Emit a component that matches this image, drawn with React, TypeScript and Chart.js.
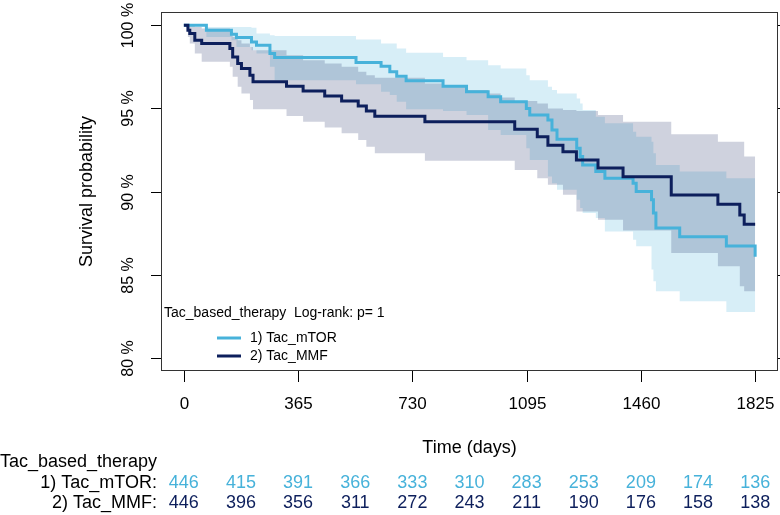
import React, { useEffect, useRef } from "react";
import { Chart, registerables } from "chart.js";

Chart.register(...registerables);

const FONT = '"Liberation Sans", Arial, Helvetica, sans-serif';
const MTOR_COLOR = "#47B2DA";
const MMF_COLOR = "#0D1F5C";

const groupLabels = ["1) Tac_mTOR", "2) Tac_MMF"];
const strataTitle = "Tac_based_therapy";
const pValueText = "Log-rank: p= 1";

// 1) Tac_mTOR
const mtorTime = [0, 72, 152, 168, 216, 232, 275, 290, 550, 630, 658, 680, 710, 828, 903, 972, 1012, 1094, 1105, 1163, 1176, 1192, 1255, 1266, 1274, 1316, 1345, 1435, 1445, 1494, 1500, 1508, 1584, 1733, 1825];
const mtorSurv = [100, 99.7, 99.46, 99.26, 99.0, 98.8, 98.3, 98.06, 97.76, 97.54, 97.2, 96.94, 96.66, 96.34, 96.0, 95.7, 95.4, 95.0, 94.6, 94.3, 93.7, 93.15, 92.6, 92.1, 91.6, 91.2, 90.8, 90.5, 90.0, 89.5, 88.7, 87.8, 87.27, 86.72, 86.08];
const mtorUpper = [100, 99.9, 99.9, 99.9, 99.85, 99.5, 99.4, 99.35, 99.15, 98.9, 98.9, 98.6, 98.35, 98.1, 97.9, 97.6, 97.4, 97.0, 96.7, 96.3, 96.1, 95.9, 95.6, 95.3, 94.9, 94.5, 94.1, 93.6, 93.3, 93.0, 92.3, 91.6, 91.2, 90.8, 90.5];
const mtorLower = [100, 99.3, 99.1, 98.7, 98.5, 98.3, 97.5, 96.7, 96.45, 96.0, 95.8, 95.4, 94.95, 94.85, 94.6, 93.7, 93.4, 92.6, 91.9, 90.9, 90.5, 90.1, 89.5, 89.0, 88.7, 88.4, 87.6, 87.1, 86.7, 85.3, 84.6, 84.0, 83.4, 82.75, 81.9];

// 2) Tac_MMF
const mmfTime = [0, 13, 19, 35, 57, 147, 156, 172, 184, 211, 221, 328, 381, 450, 504, 557, 583, 610, 770, 828, 903, 972, 1012, 1057, 1129, 1163, 1211, 1254, 1323, 1403, 1557, 1706, 1776, 1790, 1825];
const mmfSurv = [100, 99.7, 99.5, 99.1, 98.9, 98.6, 98.1, 97.7, 97.4, 97.0, 96.6, 96.33, 96.05, 95.75, 95.45, 95.15, 94.85, 94.53, 94.19, 94.19, 94.19, 94.19, 94.19, 93.74, 93.29, 92.79, 92.39, 91.89, 91.41, 90.89, 89.79, 89.23, 88.59, 88.03, 88.03];
const mmfUpper = [100, 100, 100, 99.9, 99.8, 99.6, 99.3, 99.1, 98.9, 98.7, 98.5, 98.2, 97.9, 97.7, 97.5, 97.2, 97.0, 96.85, 96.5, 96.35, 96.1, 95.9, 95.65, 95.45, 95.3, 95.0, 94.9, 94.85, 94.6, 94.2, 93.45, 93.0, 93.0, 92.1, 92.1];
const mmfLower = [100, 99.3, 98.9, 98.3, 97.8, 97.5, 96.9, 96.3, 95.9, 95.5, 94.95, 94.55, 94.2, 93.85, 93.5, 93.1, 92.7, 92.3, 91.85, 91.85, 91.85, 91.85, 91.85, 91.3, 90.8, 90.4, 89.8, 88.8, 88.3, 87.65, 86.3, 85.5, 84.3, 84.0, 84.0];

// axes
const xTicks = [0, 365, 730, 1095, 1460, 1825];
const yTicks = [80, 85, 90, 95, 100];
const yTickLabels = ["80 %", "85 %", "90 %", "95 %", "100 %"];
const xTitle = "Time (days)";
const yTitle = "Survival probability";

// number at risk
const riskTimes = [0, 182.5, 365, 547.5, 730, 912.5, 1095, 1277.5, 1460, 1642.5, 1825];
const riskMtor = [446, 415, 391, 366, 333, 310, 283, 253, 209, 174, 136];
const riskMmf = [446, 396, 356, 311, 272, 243, 211, 190, 176, 158, 138];

const toPts = (t: number[], v: number[]) => t.map((x, i) => ({ x, y: v[i] }));

const decor = {
  id: "kmDecor",
  afterDraw(chart: any) {
    const ctx = chart.ctx as CanvasRenderingContext2D;
    const { left, right, top, bottom } = chart.chartArea;
    const xs = chart.scales.x;
    const ys = chart.scales.y;
    ctx.save();
    // box
    ctx.strokeStyle = "#333";
    ctx.lineWidth = 1;
    ctx.strokeRect(Math.round(left) + 0.5, Math.round(top) + 0.5, Math.round(right - left) - 1, Math.round(bottom - top) - 1);

    ctx.strokeStyle = "#000";
    ctx.fillStyle = "#000";
    // x ticks
    ctx.font = `17px ${FONT}`;
    ctx.textAlign = "center";
    ctx.textBaseline = "middle";
    xTicks.forEach((t) => {
      const px = Math.round(xs.getPixelForValue(t)) + 0.5;
      ctx.beginPath();
      ctx.moveTo(px, bottom);
      ctx.lineTo(px, bottom + 11);
      ctx.stroke();
      ctx.fillText(String(t), px, 404);
    });
    ctx.font = `18px ${FONT}`;
    ctx.fillText(xTitle, (left + right) / 2, 448);

    // y ticks
    yTicks.forEach((v, i) => {
      const py = Math.round(ys.getPixelForValue(v)) + 0.5;
      ctx.beginPath();
      ctx.moveTo(left - 10, py);
      ctx.lineTo(left, py);
      ctx.stroke();
      ctx.beginPath();
      ctx.moveTo(right, py);
      ctx.lineTo(right + 4, py);
      ctx.stroke();
      ctx.save();
      ctx.translate(129, py);
      ctx.rotate(-Math.PI / 2);
      ctx.font = `16px ${FONT}`;
      ctx.fillText(yTickLabels[i], 0, 0);
      ctx.restore();
    });
    ctx.save();
    ctx.translate(87, (top + bottom) / 2);
    ctx.rotate(-Math.PI / 2);
    ctx.font = `18px ${FONT}`;
    ctx.fillText(yTitle, 0, 0);
    ctx.restore();

    // legend
    ctx.font = `14px ${FONT}`;
    ctx.textAlign = "left";
    ctx.fillText(`${strataTitle}  ${pValueText}`, 164, 313);
    const legendColors = [MTOR_COLOR, MMF_COLOR];
    const legendY = [338, 356];
    groupLabels.forEach((lab, i) => {
      ctx.strokeStyle = legendColors[i];
      ctx.lineWidth = 3;
      ctx.beginPath();
      ctx.moveTo(217, legendY[i]);
      ctx.lineTo(241, legendY[i]);
      ctx.stroke();
      ctx.fillStyle = "#000";
      ctx.fillText(lab, 250, legendY[i]);
    });

    // risk table
    ctx.font = `18px ${FONT}`;
    ctx.fillStyle = "#000";
    ctx.textAlign = "left";
    ctx.fillText(strataTitle, 0, 462);
    ctx.textAlign = "right";
    ctx.fillText(groupLabels[0] + ":", 157, 483);
    ctx.fillText(groupLabels[1] + ":", 157, 503);
    ctx.textAlign = "center";
    riskTimes.forEach((t, i) => {
      const px = xs.getPixelForValue(t);
      ctx.fillStyle = MTOR_COLOR;
      ctx.fillText(String(riskMtor[i]), px, 483);
      ctx.fillStyle = MMF_COLOR;
      ctx.fillText(String(riskMmf[i]), px, 503);
    });
    ctx.restore();
  },
};

export default function App() {
  const ref = useRef<HTMLCanvasElement>(null);
  useEffect(() => {
    document.body.style.margin = "0";
    const canvas = ref.current!;
    const common = { pointRadius: 0, stepped: "before" as const, tension: 0 };
    const chart = new Chart(canvas, {
      type: "line",
      data: {
        datasets: [
          { ...common, label: groupLabels[1], data: toPts(mmfTime, mmfSurv), borderColor: MMF_COLOR, borderWidth: 3, fill: false, order: 1 },
          { ...common, label: groupLabels[0], data: toPts(mtorTime, mtorSurv), borderColor: MTOR_COLOR, borderWidth: 3, fill: false, order: 2 },
          { ...common, label: "mmf_upper", data: toPts(mmfTime, mmfUpper), borderWidth: 0, borderColor: "rgba(0,0,0,0)", backgroundColor: "rgba(13,31,92,0.2)", fill: "+1", order: 3 },
          { ...common, label: "mmf_lower", data: toPts(mmfTime, mmfLower), borderWidth: 0, borderColor: "rgba(0,0,0,0)", fill: false, order: 3 },
          { ...common, label: "mtor_upper", data: toPts(mtorTime, mtorUpper), borderWidth: 0, borderColor: "rgba(0,0,0,0)", backgroundColor: "rgba(71,178,218,0.22)", fill: "+1", order: 4 },
          { ...common, label: "mtor_lower", data: toPts(mtorTime, mtorLower), borderWidth: 0, borderColor: "rgba(0,0,0,0)", fill: false, order: 4 },
        ],
      },
      options: {
        responsive: false,
        animation: false,
        devicePixelRatio: 1,
        layout: { padding: { left: 161, right: 2, top: 12, bottom: 144 } },
        scales: {
          x: { type: "linear", min: -73, max: 1898, display: false },
          y: { type: "linear", min: 79.2, max: 100.8, display: false },
        },
        plugins: { legend: { display: false }, tooltip: { enabled: false } },
      },
      plugins: [decor],
    });
    return () => chart.destroy();
  }, []);
  return <canvas ref={ref} width={780} height={515} style={{ display: "block", width: 780, height: 515 }} />;
}
